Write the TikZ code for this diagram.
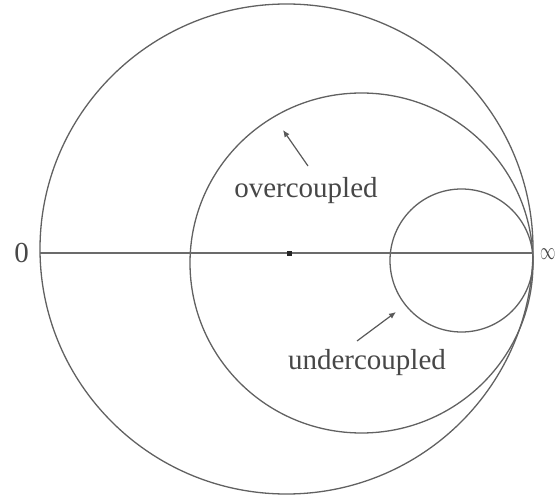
\documentclass[tikz,border=0pt]{standalone}
\usepackage{fontspec}
\setmainfont{Liberation Serif}
\usepackage{tikz}
\usetikzlibrary{arrows.meta}

\begin{document}
\begin{tikzpicture}[x=1pt, y=-1pt,
  rim/.style={draw=black!62, line width=1.3pt},
  eje/.style={draw=black!58, line width=1.4pt},
  et/.style={font=\fontsize{29}{32}\selectfont, text=black!72, inner sep=0pt},
  fl/.style={-{Latex[length=7pt, width=6pt]}, black!65, line width=1.2pt},
  punto/.style={fill=black!85, minimum size=5pt, inner sep=0pt}]
\useasboundingbox (0,0) rectangle (560,497);
\coordinate (zero) at (40,253);
\coordinate (inf) at (533,253);
\draw[rim] (286.5,249) ellipse [x radius=246.5pt, y radius=245pt];
\draw[rim] (361.5,263) ellipse [x radius=171.5pt, y radius=170pt];
\draw[rim] (461.5,260.5) circle [radius=71.5pt];
\draw[eje] (zero) -- (inf);
\node[punto] (mid) at (289,254) {};
\node[et, anchor=east] (lzero) at (29,253) {0};
\node[et, anchor=west] (linf) at (540,254) {\scalebox{0.62}[1]{$\infty$}};
\node[et] (over) at (306,191) {overcoupled};
\node[et] (under) at (367,363) {undercoupled};
\coordinate (overtip) at (283,130);
\coordinate (overtail) at (308,166);
\coordinate (undertip) at (396,312);
\coordinate (undertail) at (357,341);
\draw[fl] (overtail) -- (overtip);
\draw[fl] (undertail) -- (undertip);
\end{tikzpicture}
\end{document}
